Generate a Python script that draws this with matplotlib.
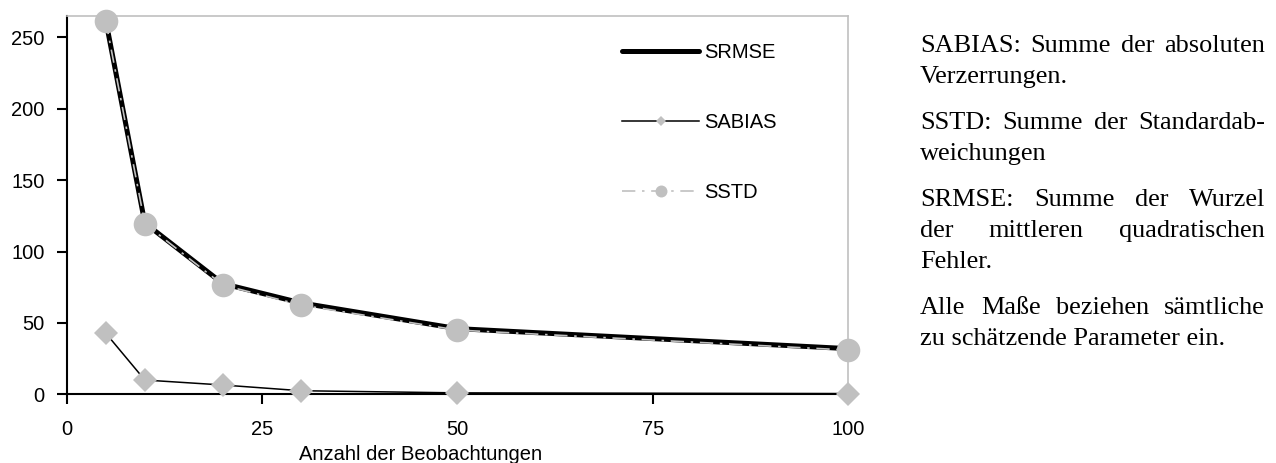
import matplotlib
matplotlib.use('Agg')
import matplotlib.pyplot as plt
from matplotlib.lines import Line2D

# ---------------- data ----------------
x_obs = [5, 10, 20, 30, 50, 100]
srmse = [262, 120, 77.5, 64, 46, 32]
sabias = [42.8, 10, 6.5, 2.5, 1, 0.5]
sstd = [261.5, 119.5, 76.5, 62.5, 45, 31]
series_names = ['SRMSE', 'SABIAS', 'SSTD']
x_ticks = [0, 25, 50, 75, 100]
y_ticks = [0, 50, 100, 150, 200, 250]
x_label = 'Anzahl der Beobachtungen'
notes = [
    ["SABIAS: Summe der absoluten", "Verzerrungen."],
    ["SSTD: Summe der Standardab-", "weichungen"],
    ["SRMSE: Summe der Wurzel", "der mittleren quadratischen", "Fehler."],
    ["Alle Maße beziehen sämtliche", "zu schätzende Parameter ein."],
]

# ---------------- style ----------------
W, H = 1276, 463
GRAY = '#c0c0c0'
FS = 14.5
plt.rcParams['font.family'] = ['Liberation Sans', 'DejaVu Sans']

fig = plt.figure(figsize=(W / 100, H / 100), dpi=100)
ax_left, ax_right = 66.7, 848.0
ax_top, ax_bottom = 16.0, 394.3
ax = fig.add_axes([ax_left / W, (H - ax_bottom) / H,
                   (ax_right - ax_left) / W, (ax_bottom - ax_top) / H])

ax.plot(x_obs, srmse, color='black', lw=3.6, solid_capstyle='butt',
        zorder=3, clip_on=False, label=series_names[0])
ax.plot(x_obs, sabias, color='black', lw=1.1, marker='D', ms=12.5,
        mfc=GRAY, mec=GRAY, mew=0, zorder=3.2, clip_on=False,
        label=series_names[1])
ax.plot(x_obs, sstd, color=GRAY, lw=1.2, linestyle=(0, (8, 4, 1.5, 4)),
        marker='o', ms=17, mfc=GRAY, mec=GRAY, mew=0, zorder=3.4,
        clip_on=False, label=series_names[2])

ax.set_xlim(0, 100)
ax.set_ylim(0, 265)
ax.set_xticks(x_ticks)
ax.set_yticks(y_ticks)
ax.tick_params(axis='both', direction='out', length=7, width=1.5,
               labelsize=FS, colors='black')
ax.tick_params(axis='x', pad=11.5)
ax.tick_params(axis='y', pad=9)
for s in ['left', 'bottom']:
    ax.spines[s].set_linewidth(1.5)
    ax.spines[s].set_color('black')
for s in ['top', 'right']:
    ax.spines[s].set_linewidth(1.2)
    ax.spines[s].set_color(GRAY)

# legend with smaller markers, as in reference
handles = [
    Line2D([], [], color='black', lw=3.6, solid_capstyle='round'),
    Line2D([], [], color='black', lw=1.1, marker='D', ms=5.2, mfc=GRAY,
           mec=GRAY, mew=0),
    Line2D([], [], color=GRAY, lw=1.2, linestyle=(0, (8, 4, 1.5, 4)),
           marker='o', ms=8.6, mfc=GRAY, mec=GRAY, mew=0),
]
fs_px = FS * 100 / 72
ax.legend(handles, series_names, loc='upper left',
          bbox_to_anchor=(622 / W, 1 - 43.5 / H),
          bbox_transform=fig.transFigure, frameon=False, fontsize=FS,
          borderpad=0, borderaxespad=0, handlelength=77 / fs_px,
          handletextpad=5 / fs_px, labelspacing=2.52)

# x label (positioned as in reference)
fig.text(421 / W, 1 - 460.5 / H, x_label, ha='center', va='baseline',
         fontsize=FS)

# ---------------- justified notes on the right ----------------
renderer = fig.canvas.get_renderer()
NFS = 18.9
x0, x1 = 920.0, 1265.0
y = 52.0
for para in notes:
    for i, line in enumerate(para):
        last = (i == len(para) - 1)
        yb = 1 - y / H
        words = line.split(' ')
        if last or len(words) == 1:
            fig.text(x0 / W, yb, line, ha='left', va='baseline', fontsize=NFS,
                     family=['Liberation Serif', 'DejaVu Serif'])
        else:
            texts = [fig.text(0, yb, w, ha='left', va='baseline', fontsize=NFS,
                              family=['Liberation Serif', 'DejaVu Serif'])
                     for w in words]
            widths = [t.get_window_extent(renderer).width for t in texts]
            gap = (x1 - x0 - sum(widths)) / (len(words) - 1)
            xp = x0
            for t, wdt in zip(texts, widths):
                t.set_x(xp / W)
                xp += wdt + gap
        y += 31
    y += 15

fig.savefig('out.png', dpi=100)
